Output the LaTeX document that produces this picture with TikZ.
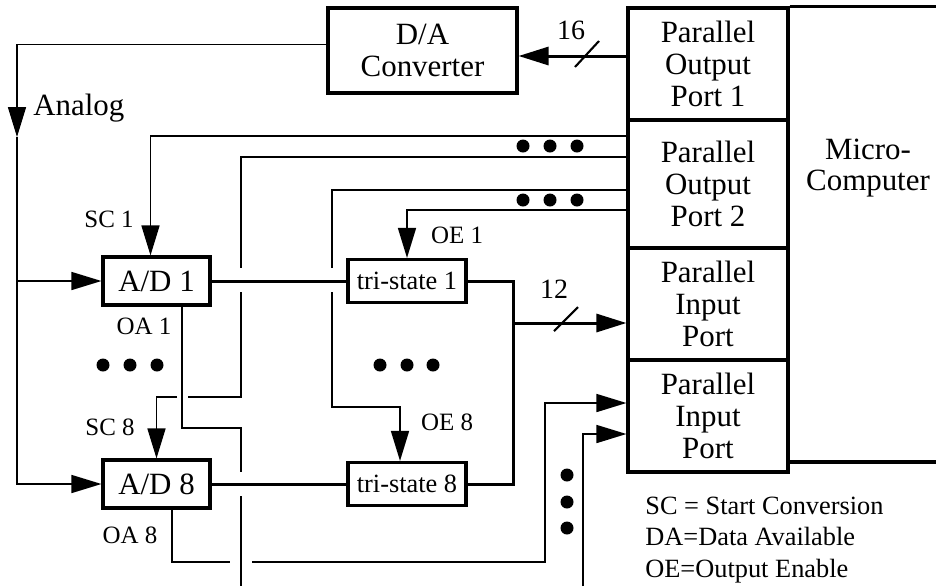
\documentclass[tikz,border=0pt]{standalone}
\usepackage{fontspec}
\setmainfont{Liberation Serif}
\usetikzlibrary{arrows.meta,positioning,calc}

\begin{document}
\begin{tikzpicture}[x=0.02cm, y=-0.02cm,
    >={Triangle[length=0.6cm, width=0.36cm]},
    block/.style={rectangle, draw, line width=1.8pt, inner sep=0pt, align=center, font=\fontsize{17.6}{18.1}\selectfont},
    port/.style={block, minimum width=3.2cm, minimum height=2.24cm},
    adc/.style={block, minimum width=2.14cm, minimum height=0.96cm},
    tri/.style={block, minimum width=2.36cm, minimum height=0.86cm, font=\fontsize{15}{17}\selectfont},
    wire/.style={line width=0.9pt},
    arrow/.style={->, line width=0.9pt},
    bus/.style={line width=1.7pt},
    lbl/.style={inner sep=0pt, font=\fontsize{14.2}{16}\selectfont},
    num/.style={inner sep=0pt, font=\fontsize{15.9}{17}\selectfont},
]
\useasboundingbox (0,0) rectangle (936,586);

% micro-computer and its ports
\node[port] (p1) at (708,64) {Parallel\\Output\\Port 1};
\node[port, minimum height=2.56cm] (p2) at (708,184) {Parallel\\Output\\Port 2};
\node[port] (p3) at (708,304) {Parallel\\Input\\Port};
\node[port] (p4) at (708,416) {Parallel\\Input\\Port};
\node[font=\fontsize{17.6}{18.1}\selectfont, align=center, inner sep=0pt] (micro) at (868,168) {Micro-\\Computer};
\draw[line width=1.8pt] (p1.north east) -- (p1.north east -| 936,0);
\draw[line width=1.8pt] (p4.east |- 0,462) -- (936,462);

% converters
\node[block, minimum width=3.78cm, minimum height=1.7cm] (da) at (422.5,50.5) {D/A\\Converter};
\node[adc] (ad1) at (156.5,281) {A/D 1};
\node[adc] (ad8) at (156.5,484) {A/D 8};
\node[tri] (tri1) at (407,281) {tri-state 1};
\node[tri] (tri8) at (407,484) {tri-state 8};

% D/A path and analog bus
\draw[arrow, bus] (p1.west |- 0,56) -- (da.east |- 0,56);
\coordinate (s16) at (587,54);
\draw[line width=1.2pt] ($(s16)+(-12,13)$) -- ($(s16)+(12,-13)$);
\node[num] (n16) at (571,30) {16};
\draw[arrow] ($(da.west)+(0,-6)$) -| (17,137);
\draw[arrow] (17,137) |- (ad8);
\draw[arrow] (17,281) -- (ad1);
\node[anchor=west, inner sep=0pt, font=\fontsize{17.6}{18.1}\selectfont] (analog) at (33,108) {Analog};

% start conversion lines
\draw[arrow] (p2.west |- 0,136) -| ($(ad1.north)+(-6,0)$);
\draw[arrow] (p2.west |- 0,157) -| (241,268) (241,292) -- (241,397) -- (188,397) (177,397) -| (ad8.north);
\node[lbl] (sc1) at (109,219) {SC 1};
\node[lbl] (sc8) at (110,427) {SC 8};

% data available lines
\draw[wire] ($(ad1.south)+(25.5,0)$) |- (241,428) -- (241,472) (241,496) -- (241,586);
\draw[arrow] ($(ad8.south)+(15.5,0)$) |- (230,562) (252,562) -| (545,403) -- (p4.west |- 0,403);
\draw[arrow] (583,586) |- (p4.west |- 0,434);
\node[lbl] (oa1) at (144,326) {OA 1};
\node[lbl] (oa8) at (130,535) {OA 8};

% output enable lines
\draw[arrow] (p2.west |- 0,210) -| (tri1.north);
\draw[arrow] (p2.west |- 0,190) -| (332,268) (332,292) |- ($(tri8.north)+(-7,-54)$) -- ($(tri8.north)+(-7,0)$);
\node[lbl] (oe1) at (457,235) {OE 1};
\node[lbl] (oe8) at (447,422) {OE 8};

% data paths
\draw[bus] (ad1) -- (tri1);
\draw[bus] (ad8) -- (tri8);
\coordinate (j) at (513,323);
\draw[bus] (tri1.east) -| (j) |- (tri8.east);
\draw[arrow, bus] (j) -- (p3.west |- j);
\coordinate (s12) at (566,319);
\draw[line width=1.2pt] ($(s12)+(-12,12)$) -- ($(s12)+(12,-12)$);
\node[num] (n12) at (554,289) {12};

% ellipses
\foreach \x in {523,550,577} {
  \fill (\x,146) circle (0.13cm);
  \fill (\x,200) circle (0.13cm);
}
\foreach \x in {103,130,157} \fill (\x,365) circle (0.13cm);
\foreach \x in {380,407,433} \fill (\x,365) circle (0.13cm);
\foreach \y in {475,502,528} \fill (567,\y) circle (0.13cm);

% legend
\node[anchor=west, align=left, inner sep=0pt, font=\fontsize{15}{17.9}\selectfont] (legend) at (645,540) {SC = Start Conversion\\DA=Data Available\\OE=Output Enable};
\end{tikzpicture}
\end{document}
